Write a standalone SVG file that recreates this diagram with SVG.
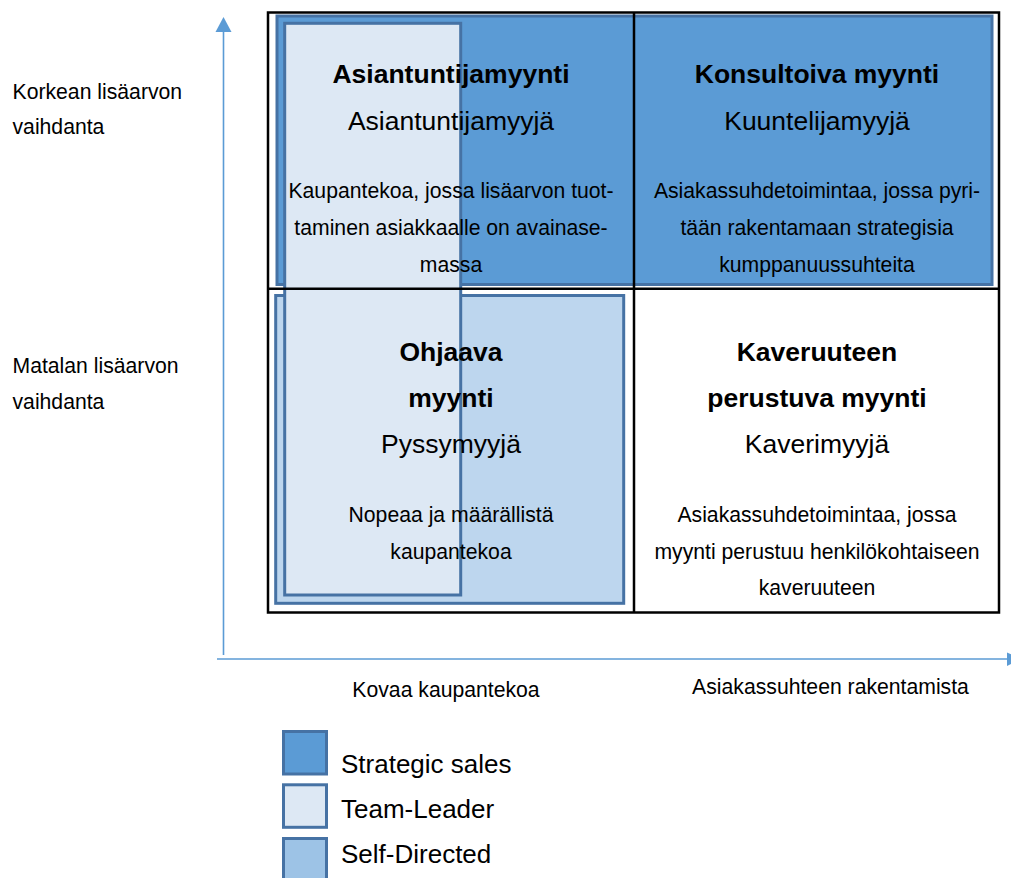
<svg xmlns="http://www.w3.org/2000/svg" width="1011" height="878" viewBox="0 0 1011 878">
<style>
text{font-family:"Liberation Sans",Arial,sans-serif;fill:#000}
.t{font-size:26.5px;font-weight:bold;text-anchor:middle}
.s{font-size:26.5px;text-anchor:middle}
.b{font-size:21.2px;text-anchor:middle}
.l{font-size:21.2px}
.g{font-size:26px}
.strat{fill:#5b9bd5;stroke:#4672a4;stroke-width:3}
.team{fill:#dde8f4;stroke:#4672a4;stroke-width:3}
.self{fill:#bdd6ee;stroke:#4672a4;stroke-width:3}
.selfleg{fill:#9dc3e6;stroke:#4672a4;stroke-width:3}
.axis{stroke:#5b9bd5;stroke-width:1.6;fill:none}
.grid{fill:none;stroke:#000;stroke-width:2.5}
</style>
<rect width="1011" height="878" fill="#fff"/>
<g id="regions">
<rect id="strategic" class="strat" x="277" y="16" width="715" height="268.5"/>
<rect id="selfdirected" class="self" x="275.7" y="295.5" width="348" height="307.8"/>
<rect id="teamleader" class="team" x="284.7" y="23.3" width="176" height="571.7"/>
</g>
<g id="grid">
<rect class="grid" x="268" y="12.5" width="731" height="600"/>
<line class="grid" x1="634" y1="12.5" x2="634" y2="612.5"/>
<line class="grid" x1="268" y1="288.8" x2="999" y2="288.8"/>
</g>
<g id="connectors">
<line class="axis" x1="223.5" y1="30" x2="223.5" y2="655"/>
<polygon points="223.5,17 215.5,32 231.5,32" fill="#5b9bd5"/>
<line class="axis" x1="217" y1="659" x2="1008" y2="659"/>
<polygon points="1007,652.5 1007,666 1021,659" fill="#5b9bd5"/>
</g>
<g id="q-asiantuntija">
<text class="t" x="451" y="82.7">Asiantuntijamyynti</text>
<text class="s" x="451" y="130">Asiantuntijamyyjä</text>
<text class="b" x="451" y="197.7">Kaupantekoa, jossa lisäarvon tuot-</text>
<text class="b" x="451" y="235">taminen asiakkaalle on avainase-</text>
<text class="b" x="451" y="271.7">massa</text>
</g>
<g id="q-konsultoiva">
<text class="t" x="817" y="82.7">Konsultoiva myynti</text>
<text class="s" x="817" y="130">Kuuntelijamyyjä</text>
<text class="b" x="817" y="197.7">Asiakassuhdetoimintaa, jossa pyri-</text>
<text class="b" x="817" y="235">tään rakentamaan strategisia</text>
<text class="b" x="817" y="271.7">kumppanuussuhteita</text>
</g>
<g id="q-ohjaava">
<text class="t" x="451" y="361">Ohjaava</text>
<text class="t" x="451" y="407.3">myynti</text>
<text class="s" x="451" y="452.7">Pyssymyyjä</text>
<text class="b" x="451" y="522.3">Nopeaa ja määrällistä</text>
<text class="b" x="451" y="559">kaupantekoa</text>
</g>
<g id="q-kaveruus">
<text class="t" x="817" y="361">Kaveruuteen</text>
<text class="t" x="817" y="407.3">perustuva myynti</text>
<text class="s" x="817" y="452.7">Kaverimyyjä</text>
<text class="b" x="817" y="522.3">Asiakassuhdetoimintaa, jossa</text>
<text class="b" x="817" y="559">myynti perustuu henkilökohtaiseen</text>
<text class="b" x="817" y="595">kaveruuteen</text>
</g>
<g id="axis-labels">
<text class="l" x="12.5" y="99.3">Korkean lisäarvon</text>
<text class="l" x="12.5" y="134">vaihdanta</text>
<text class="l" x="12.5" y="373.3">Matalan lisäarvon</text>
<text class="l" x="12.5" y="409">vaihdanta</text>
<text class="b" x="446" y="696.5">Kovaa kaupantekoa</text>
<text class="b" x="830.5" y="694">Asiakassuhteen rakentamista</text>
</g>
<g id="legend">
<rect class="strat" x="283.5" y="731.5" width="43" height="42.5"/>
<text class="g" x="341" y="772.7">Strategic sales</text>
<rect class="team" x="283.5" y="784.8" width="43" height="42.5"/>
<text class="g" x="341" y="818.3">Team-Leader</text>
<rect class="selfleg" x="283.5" y="838.5" width="43" height="43"/>
<text class="g" x="341" y="862.7">Self-Directed</text>
</g>
</svg>
